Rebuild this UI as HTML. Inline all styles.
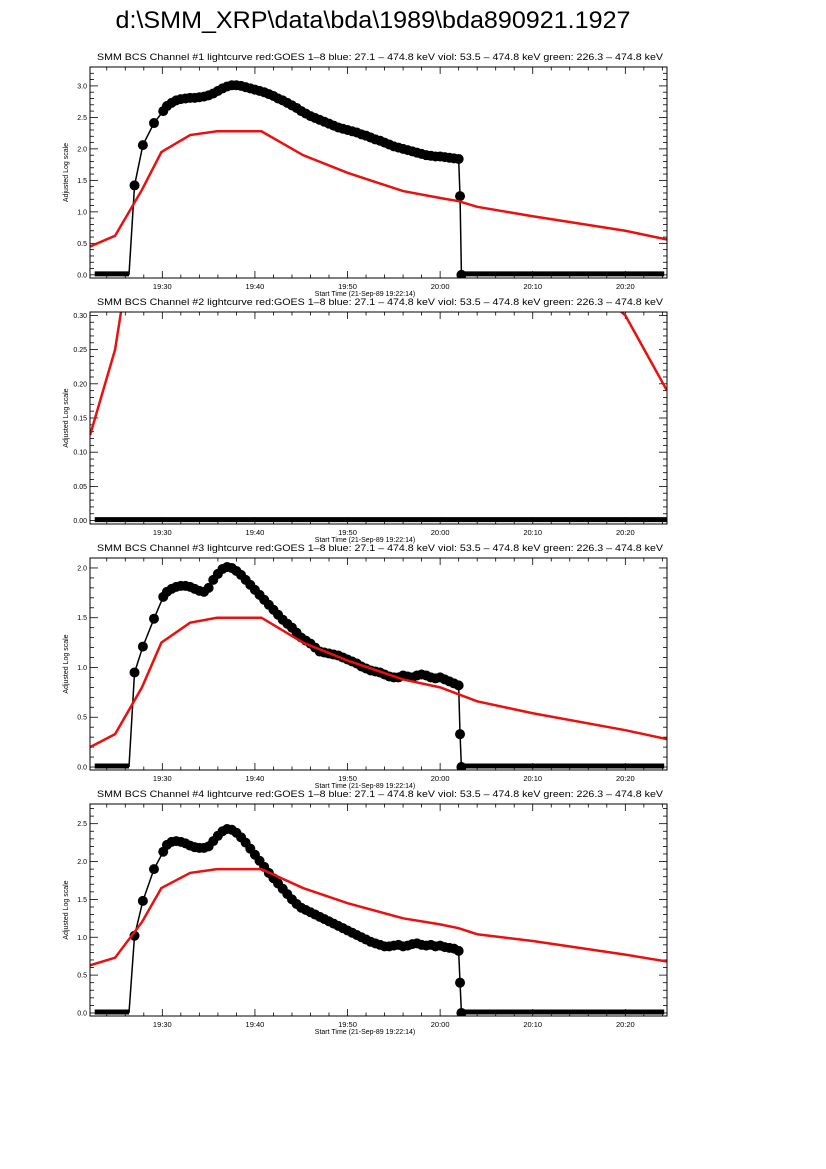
<!DOCTYPE html>
<html><head><meta charset="utf-8"><style>
body{margin:0;background:#fff;}
svg{display:block;font-family:"Liberation Sans",sans-serif;}
</style></head><body>
<svg id="fig" width="826" height="1169" viewBox="0 0 826 1169" xmlns="http://www.w3.org/2000/svg">
<rect width="826" height="1169" fill="#fff"/>
<text x="373" y="28" font-size="24" text-anchor="middle" textLength="515" lengthAdjust="spacingAndGlyphs">d:\SMM_XRP\data\bda\1989\bda890921.1927</text>
</svg>
<script>
// time in minutes after 19:00
const redTimes=[22.2,24.9,27.8,29.9,33,35.9,40.7,45.2,50,56,60,62,64,70,80,84.5];
const red1=[0.45,0.62,1.35,1.95,2.22,2.28,2.28,1.9,1.62,1.33,1.22,1.17,1.08,0.93,0.7,0.56];
const red2=[0.125,0.25,0.5,0.8,1,1.05,1.05,0.85,0.7,0.6,0.55,0.52,0.5,0.42,0.30,0.19];
const red3=[0.2,0.33,0.8,1.25,1.45,1.5,1.5,1.25,1.07,0.88,0.8,0.73,0.66,0.54,0.37,0.28];
const red4=[0.63,0.73,1.2,1.65,1.85,1.9,1.9,1.65,1.45,1.25,1.17,1.12,1.04,0.95,0.77,0.68];
const bcsTimes=[27.0,27.9,29.1,30.1,30.5,31,31.5,32,32.5,33,33.5,34,34.5,35,35.5,36,36.5,37,37.5,38,38.5,39,39.5,40,40.5,41,41.5,42,42.5,43,43.5,44,44.5,45,45.5,46,46.5,47,47.5,48,48.5,49,49.5,50,50.5,51,51.5,52,52.5,53,53.5,54,54.5,55,55.5,56,56.5,57,57.5,58,58.5,59,59.5,60,60.5,61,61.5,62,62.15,62.3];
const bcs1=[1.42,2.06,2.41,2.6,2.68,2.73,2.77,2.79,2.8,2.81,2.81,2.82,2.83,2.85,2.88,2.92,2.96,2.99,3.01,3.01,3.0,2.98,2.96,2.94,2.92,2.9,2.87,2.84,2.8,2.77,2.73,2.69,2.65,2.6,2.56,2.52,2.49,2.46,2.43,2.4,2.37,2.34,2.32,2.3,2.28,2.26,2.23,2.21,2.18,2.15,2.13,2.1,2.07,2.04,2.02,2.0,1.98,1.96,1.94,1.92,1.9,1.89,1.88,1.88,1.87,1.86,1.85,1.84,1.25,0];
const bcs2=[0,0,0,0,0,0,0,0,0,0,0,0,0,0,0,0,0,0,0,0,0,0,0,0,0,0,0,0,0,0,0,0,0,0,0,0,0,0,0,0,0,0,0,0,0,0,0,0,0,0,0,0,0,0,0,0,0,0,0,0,0,0,0,0,0,0,0,0,0,0];
const bcs3=[0.95,1.21,1.49,1.71,1.76,1.79,1.81,1.82,1.82,1.81,1.79,1.77,1.76,1.8,1.88,1.94,1.99,2.01,2.0,1.97,1.93,1.88,1.83,1.78,1.73,1.68,1.63,1.58,1.53,1.48,1.44,1.4,1.35,1.3,1.27,1.24,1.2,1.16,1.15,1.14,1.13,1.12,1.1,1.08,1.06,1.04,1.01,0.99,0.97,0.96,0.95,0.93,0.91,0.9,0.9,0.92,0.91,0.9,0.92,0.93,0.92,0.9,0.89,0.9,0.88,0.86,0.84,0.82,0.33,0];
const bcs4=[1.02,1.48,1.9,2.13,2.22,2.26,2.27,2.26,2.24,2.21,2.19,2.18,2.18,2.2,2.27,2.34,2.4,2.43,2.42,2.38,2.32,2.25,2.17,2.09,2.01,1.93,1.85,1.78,1.71,1.64,1.57,1.5,1.44,1.39,1.36,1.33,1.3,1.27,1.24,1.21,1.18,1.15,1.12,1.09,1.06,1.03,1.0,0.97,0.94,0.92,0.9,0.88,0.88,0.89,0.9,0.88,0.89,0.91,0.92,0.9,0.89,0.9,0.88,0.89,0.87,0.86,0.85,0.82,0.4,0];
const xTickLabels=["19:30","19:40","19:50","20:00","20:10","20:20"];
const yTicks1=["0.0","0.5","1.0","1.5","2.0","2.5","3.0"];
const yTicks2=["0.00","0.05","0.10","0.15","0.20","0.25","0.30"];
const yTicks3=["0.0","0.5","1.0","1.5","2.0"];
const yTicks4=["0.0","0.5","1.0","1.5","2.0","2.5"];

const NS="http://www.w3.org/2000/svg";
const svg=document.getElementById('fig');
const X0=90,X1=667,T0=22.19,T1=84.5;
function xs(t){return X0+(t-T0)/(T1-T0)*(X1-X0);}
function mk(tag,attrs,parent){const e=document.createElementNS(NS,tag);for(const k in attrs)e.setAttribute(k,attrs[k]);(parent||svg).appendChild(e);return e;}
const panels=[
 {top:67,bot:278,ymin:-0.05,ymax:3.3,minor:0.1,ticks:yTicks1,red:red1,bcs:bcs1,n:1,zeroAll:false},
 {top:312,bot:524,ymin:-0.005,ymax:0.305,minor:0.01,ticks:yTicks2,red:red2,bcs:bcs2,n:2,zeroAll:true},
 {top:558,bot:770,ymin:-0.03,ymax:2.1,minor:0.1,ticks:yTicks3,red:red3,bcs:bcs3,n:3,zeroAll:false},
 {top:804,bot:1016,ymin:-0.04,ymax:2.76,minor:0.1,ticks:yTicks4,red:red4,bcs:bcs4,n:4,zeroAll:false}
];
panels.forEach(p=>{
 const g=mk('g',{});
 
 
 const ys=v=>p.bot-(v-p.ymin)/(p.ymax-p.ymin)*(p.bot-p.top);
 const cid='clip'+p.n;
 const cp=mk('clipPath',{id:cid},g);mk('rect',{x:X0,y:p.top,width:X1-X0,height:p.bot-p.top},cp);
 const t=mk('text',{x:380,y:p.top-7,'font-size':9.5,'text-anchor':'middle',textLength:566,lengthAdjust:'spacingAndGlyphs'},g);
 t.textContent='SMM BCS Channel #'+p.n+' lightcurve  red:GOES 1\u20138  blue: 27.1 \u2013 474.8 keV  viol: 53.5 \u2013 474.8 keV  green: 226.3 \u2013 474.8 keV';
 
 
 const yt=mk('text',{transform:`translate(${X0-22},${(p.top+p.bot)/2}) rotate(-90)`,'font-size':7,'text-anchor':'middle'},g);
 yt.textContent='Adjusted Log scale';
 
 
 const xt=mk('text',{x:365,y:p.bot+18,'font-size':7,'text-anchor':'middle'},g);
 xt.textContent='Start Time (21-Sep-89 19:22:14)';
 
 
 for(let m=24;m<=84;m+=2){
  const x=xs(m),major=(m%10===0),L=major?7:3.5;
  mk('line',{x1:x,y1:p.bot,x2:x,y2:p.bot-L,stroke:'#000','stroke-width':0.8},g);
  mk('line',{x1:x,y1:p.top,x2:x,y2:p.top+L,stroke:'#000','stroke-width':0.8},g);
 }
 xTickLabels.forEach((lab,i)=>{
  const l=mk('text',{x:xs(30+10*i),y:p.bot+11,'font-size':7.5,'text-anchor':'middle'},g);
  l.textContent=lab;
  
  
 });
 const step=(parseFloat(p.ticks[1])-parseFloat(p.ticks[0]));
 for(let k=0;;k++){const v=k*p.minor;if(v>p.ymax+1e-9)break;const y=ys(v);
  const major=Math.abs(v/step-Math.round(v/step))<1e-6,L=major?8:4;
  mk('line',{x1:X0,y1:y,x2:X0+L,y2:y,stroke:'#000','stroke-width':0.8},g);
  mk('line',{x1:X1,y1:y,x2:X1-L,y2:y,stroke:'#000','stroke-width':0.8},g);}
 p.ticks.forEach(lab=>{
  const l=mk('text',{x:X0-3,y:ys(parseFloat(lab))+2.5,'font-size':7,'text-anchor':'end'},g);
  l.textContent=lab;
  
  
 });
 const plot=mk('g',{'clip-path':`url(#${cid})`},g);
 const z1=p.zeroAll?T1:bcsTimes[0]-0.6;
 const zb=mk('line',{x1:xs(22.7),y1:ys(0)-1,x2:xs(z1),y2:ys(0)-1,stroke:'#000','stroke-width':5},plot);
 
 
 if(!p.zeroAll){
  const za=mk('line',{x1:xs(bcsTimes[bcsTimes.length-1]),y1:ys(0)-1,x2:xs(84.2),y2:ys(0)-1,stroke:'#000','stroke-width':5},plot);
  
  
  const pts=[[bcsTimes[0]-0.6,0]].concat(bcsTimes.map((tt,i)=>[tt,p.bcs[i]]));
  const pl=mk('polyline',{points:pts.map(q=>xs(q[0])+','+ys(q[1])).join(' '),fill:'none',stroke:'#000','stroke-width':1.5},plot);
  
  
  bcsTimes.forEach((tt,i)=>{
   const c=mk('circle',{cx:xs(tt),cy:ys(p.bcs[i]),r:5,fill:'#000'},plot);
   
   
  });
 }
 const rl=mk('polyline',{points:redTimes.map((tt,i)=>xs(tt)+','+ys(p.red[i])).join(' '),fill:'none',stroke:'#e8110f','stroke-width':2.5},plot);
 
 
 const fr=mk('rect',{x:X0,y:p.top,width:X1-X0,height:p.bot-p.top,fill:'none',stroke:'#000','stroke-width':1},g);
 
 
});
</script>
</body></html>
